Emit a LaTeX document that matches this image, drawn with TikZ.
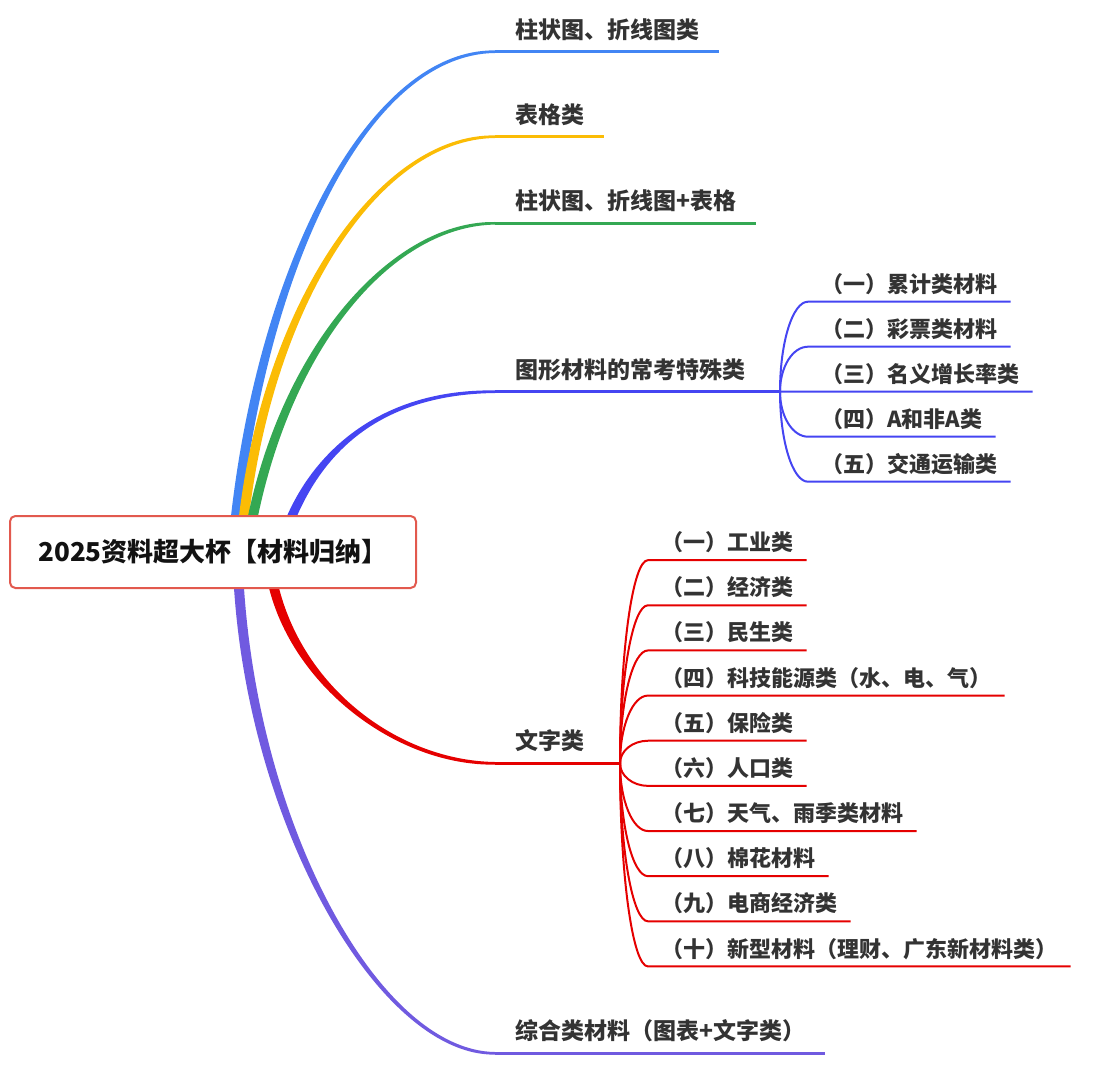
\documentclass[tikz,border=0pt]{standalone}
\usepackage{fontspec}
\setmainfont{Noto Sans CJK SC}
\usetikzlibrary{calc,backgrounds}
\definecolor{cblue}{HTML}{4285F4}
\definecolor{cyellow}{HTML}{FBBC05}
\definecolor{cgreen}{HTML}{34A853}
\definecolor{cindigo}{HTML}{4545F2}
\definecolor{cred}{HTML}{E50000}
\definecolor{cpurple}{HTML}{705AE0}
\definecolor{rootred}{HTML}{E2594E}
\definecolor{txtgray}{HTML}{333333}
\begin{document}
\begin{tikzpicture}[x=0.75pt,y=-0.75pt,
  mainlbl/.style={anchor=south west,inner xsep=15pt,inner ysep=10pt,text depth=0pt,outer sep=0pt,
    font=\fontsize{17.25}{20}\selectfont\bfseries,text=txtgray},
  sublbl/.style={anchor=south west,inner xsep=10pt,inner ysep=7.1pt,text depth=0pt,outer sep=0pt,
    font=\fontsize{16.5}{20}\selectfont\bfseries,text=txtgray},
  mainline/.style={line width=1.9pt},
  subline/.style={line width=1.5pt}]
\useasboundingbox (0,0) rectangle (1105,1080);
\node[draw=rootred,fill=white,line width=1.5pt,rounded corners=4pt,minimum width=304.5pt,
  minimum height=54pt,inner sep=0pt,outer sep=0pt,text=black!93,
  font=\fontsize{19.5}{22}\selectfont\bfseries] (root) at (213,552) {2025资料超大杯【材料归纳】};
\coordinate (r1) at ($(root.north west)+(226,0)$);
\coordinate (r2) at ($(root.north west)+(234,0)$);
\coordinate (r3) at ($(root.north west)+(243,0)$);
\coordinate (r4) at ($(root.north west)+(282,0)$);
\coordinate (r5) at ($(root.south west)+(264,0)$);
\coordinate (r6) at ($(root.south west)+(229,0)$);
% first level
\node[mainlbl] (m1) at (495,51.7) {柱状图、折线图类};
\node[mainlbl] (m2) at (495,136.7) {表格类};
\node[mainlbl] (m3) at (495,223.3) {柱状图、折线图+表格};
\node[mainlbl] (m4) at (495,391.7) {图形材料的常考特殊类};
\node[mainlbl] (m5) at (495,763.3) {文字类};
\node[mainlbl] (m6) at (495,1053.3) {综合类材料（图表+文字类）};
\coordinate (gf) at ($(m4.south west)+(285,0)$);
\coordinate (wf) at ($(m5.south west)+(125,0)$);
\draw[mainline,cblue] (m1.south west) -- (m1.south east);
\draw[mainline,cyellow] (m2.south west) -- (m2.south east);
\draw[mainline,cgreen] (m3.south west) -- (m3.south east);
\draw[mainline,cindigo] (m4.south west) -- (gf);
\draw[mainline,cred] (m5.south west) -- (wf);
\draw[mainline,cpurple] (m6.south west) -- (m6.south east);
% tapered branches from the root
\begin{scope}[on background layer]
\foreach \col/\rt/\m/\ax/\ay/\bx/\sg in {cblue/r1/m1/29/-256/125/-1,cyellow/r2/m2/26/-216/115/-1,
  cgreen/r3/m3/37/-176/100/-1,cindigo/r4/m4/28/-64/115/-1,cred/r5/m5/26/102/95/1,cpurple/r6/m6/16/242/115/1}{
\fill[\col] ($(\rt)+(-5,0)$) .. controls ($(\rt)+({\ax-5},\ay)$) and ($(\m.south west)+(-\bx,{2.8*\sg})$) .. ($(\m.south west)+(0,{1.3*\sg})$)
  -- ($(\m.south west)+(0,{-1.3*\sg})$) .. controls ($(\m.south west)+(-\bx,{-2.8*\sg})$) and ($(\rt)+({\ax+5},\ay)$) .. ($(\rt)+(5,0)$) -- cycle;
}
\end{scope}
% second level
\foreach \t [count=\i] in {（一）累计类材料,（二）彩票类材料,（三）名义增长率类,（四）A和非A类,（五）交通运输类}{
\node[sublbl] (g\i) at ($(gf)+(28,{(\i-3)*45})$) {\t};
\draw[subline,cindigo] (gf) .. controls ($(gf)!0.55!(gf |- g\i.south west)$) and ($(g\i.south west)!0.55!(gf |- g\i.south west)$) .. (g\i.south west) -- (g\i.south east);
}
\foreach \t [count=\i] in {（一）工业类,（二）经济类,（三）民生类,（四）科技能源类（水、电、气）,（五）保险类,
  （六）人口类,（七）天气、雨季类材料,（八）棉花材料,（九）电商经济类,（十）新型材料（理财、广东新材料类）}{
\node[sublbl] (w\i) at ($(wf)+(28,{(\i-5.5)*45.15})$) {\t};
\draw[subline,cred] (wf) .. controls ($(wf)!0.55!(wf |- w\i.south west)$) and ($(w\i.south west)!0.55!(wf |- w\i.south west)$) .. (w\i.south west) -- (w\i.south east);
}
\end{tikzpicture}
\end{document}
